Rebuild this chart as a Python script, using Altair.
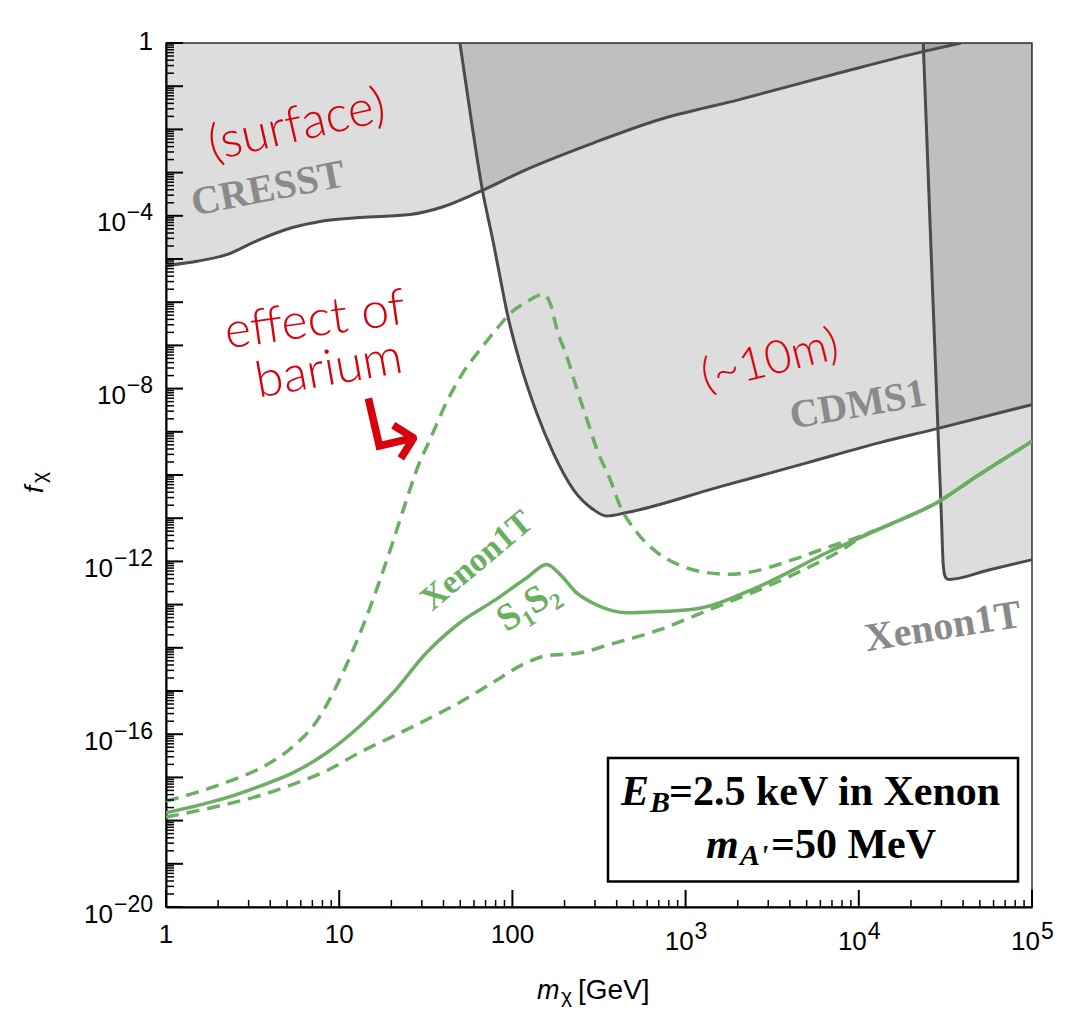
import altair as alt
import pandas as pd

W, H = 866, 864
SANS = "Liberation Sans, Arial, Helvetica, sans-serif"
SERIF = "Liberation Serif, Times New Roman, serif"
HAND = "Lato, Open Sans, sans-serif"
GREEN = "#6cae64"
GRAYLINE = "#4b4b4b"
GRAYTEXT = "#8a8a8a"
RED = "#d8000c"

# ---------- data: log10(m_chi / GeV), log10(f_chi) ----------
cresst_logm = [0.00, 0.18, 0.35, 0.54, 0.73, 0.89, 1.12, 1.41, 1.60, 1.80, 2.08, 2.47, 2.85, 3.31, 3.89, 4.37, 4.59]
cresst_logf = [-5.15, -5.05, -4.90, -4.55, -4.27, -4.13, -4.04, -3.97, -3.79, -3.46, -2.93, -2.31, -1.77, -1.31, -0.69, -0.20, 0.00]

cdms_logm = [1.697, 1.765, 1.823, 1.890, 1.947, 1.967, 2.044, 2.140, 2.236, 2.352, 2.467, 2.544, 2.660, 3.200, 3.700, 4.122, 4.430, 5.000]
cdms_logf = [0.00, -1.85, -3.32, -4.62, -5.80, -6.20, -7.40, -8.56, -9.49, -10.34, -10.80, -10.95, -10.87, -10.27, -9.72, -9.25, -8.95, -8.37]

xenon_logm = [4.372, 4.428, 4.446, 4.457, 4.476, 4.488, 4.500, 4.517, 4.750, 5.000]
xenon_logf = [0.00, -5.94, -7.79, -8.95, -10.87, -12.11, -12.36, -12.42, -12.20, -11.96]

s1s2_logm = [0.0, 0.35, 0.543, 0.735, 0.928, 1.12, 1.312, 1.505, 1.697, 1.89, 2.083, 2.198, 2.275, 2.371, 2.467,
             2.66, 2.852, 3.044, 3.43, 3.815, 4.199, 4.45, 4.681, 5.0]
s1s2_logf = [-17.82, -17.47, -17.20, -16.89, -16.43, -15.81, -15.04, -14.11, -13.42, -12.92, -12.38, -12.07, -12.30,
             -12.73, -12.97, -13.19, -13.16, -13.11, -12.57, -11.80, -11.11, -10.64, -10.03, -9.22]

upper_logm = [0.0, 0.158, 0.350, 0.543, 0.735, 0.870, 0.986, 1.081, 1.166, 1.236, 1.305, 1.380, 1.455, 1.524, 1.622,
              1.715, 1.813, 1.911, 1.998, 2.084, 2.177, 2.194, 2.223, 2.257, 2.315, 2.373, 2.431, 2.488, 2.564, 2.621,
              2.719, 2.835, 2.968, 3.124, 3.256, 3.355, 3.620, 3.816, 4.007, 4.199, 4.450, 4.681, 5.0]
upper_logf = [-17.55, -17.37, -17.11, -16.79, -16.28, -15.70, -14.87, -14.04, -13.20, -12.42, -11.61, -10.68, -9.80,
              -9.18, -8.30, -7.63, -7.10, -6.61, -6.22, -5.99, -5.82, -5.85, -6.08, -6.63, -7.26, -8.02, -8.72, -9.41,
              -10.10, -10.71, -11.33, -11.79, -12.09, -12.26, -12.30, -12.26, -11.96, -11.68, -11.42, -11.11, -10.64,
              -10.03, -9.22]

lower_logm = [0.0, 0.35, 0.543, 0.733, 0.930, 1.120, 1.311, 1.507, 1.697, 1.888, 2.084, 2.200, 2.373, 2.564, 2.852,
              3.141, 3.430, 3.718, 3.909, 4.007, 4.199, 4.450, 4.681, 5.0]
lower_logf = [-17.92, -17.62, -17.42, -17.16, -16.84, -16.42, -16.05, -15.66, -15.26, -14.80, -14.34, -14.18, -14.13,
              -13.92, -13.58, -13.11, -12.65, -12.12, -11.72, -11.45, -11.11, -10.64, -10.03, -9.22]

# axis ticks and labels
x_major = [1, 10, 100, 1e3, 1e4, 1e5]
x_minor = [k * 10.0 ** d for d in range(5) for k in range(2, 10)]
y_major = [10.0 ** (-d) for d in range(21)]
y_minor = [k * 10.0 ** (-d) for d in range(1, 21) for k in range(2, 10)]
x_plain_vals, x_plain_text = [1, 10, 100], ["1", "10", "100"]
x_pow_vals, x_pow_exp = [1e3, 1e4, 1e5], ["3", "4", "5"]
y_pow_vals = [1e-4, 1e-8, 1e-12, 1e-16, 1e-20]
y_pow_exp = ["\u22124", "\u22128", "\u221212", "\u221216", "\u221220"]


def curve(logm, logf):
    return pd.DataFrame({"m": [10.0 ** v for v in logm], "f": [10.0 ** v for v in logf]})


xs = alt.Scale(type="log", domain=[1, 1e5], nice=False)
ys = alt.Scale(type="log", domain=[1e-20, 1], nice=False)
xaxis = alt.Axis(domain=True, domainColor="black", domainWidth=2, ticks=False, labels=False, grid=False, title=None)
yaxis = alt.Axis(domain=True, domainColor="black", domainWidth=2, ticks=False, labels=False, grid=False, title=None)


def X(f):
    return alt.X(f, type="quantitative", scale=xs, axis=xaxis)


def Y(f):
    return alt.Y(f, type="quantitative", scale=ys, axis=yaxis)


layers = []

# shaded exclusion regions
for lm, lf in [(cresst_logm, cresst_logf), (cdms_logm, cdms_logf), (xenon_logm, xenon_logf)]:
    layers.append(alt.Chart(curve(lm, lf)).mark_area(color="black", opacity=0.135, interpolate="monotone", clip=True)
                  .encode(x=X("m"), y=Y("f"), y2=alt.datum(1)))
for lm, lf in [(cresst_logm, cresst_logf), (cdms_logm, cdms_logf), (xenon_logm, xenon_logf)]:
    layers.append(alt.Chart(curve(lm, lf)).mark_line(color=GRAYLINE, strokeWidth=3, interpolate="monotone", clip=True)
                  .encode(x=X("m"), y=Y("f")))

# green projections
layers.append(alt.Chart(curve(upper_logm, upper_logf)).mark_line(color=GREEN, strokeWidth=3.5, strokeDash=[13, 8],
              interpolate="monotone", clip=True).encode(x=X("m"), y=Y("f")))
layers.append(alt.Chart(curve(lower_logm, lower_logf)).mark_line(color=GREEN, strokeWidth=3.5, strokeDash=[13, 8],
              interpolate="monotone", clip=True).encode(x=X("m"), y=Y("f")))
layers.append(alt.Chart(curve(s1s2_logm, s1s2_logf)).mark_line(color=GREEN, strokeWidth=3.5,
              interpolate="monotone", clip=True).encode(x=X("m"), y=Y("f")))

# inward ticks
layers.append(alt.Chart(pd.DataFrame({"t": x_major})).mark_rule(color="black", strokeWidth=2)
              .encode(x=X("t"), y=alt.value(H), y2=alt.value(H - 17)))
layers.append(alt.Chart(pd.DataFrame({"t": x_minor})).mark_rule(color="black", strokeWidth=1.5)
              .encode(x=X("t"), y=alt.value(H), y2=alt.value(H - 7)))
layers.append(alt.Chart(pd.DataFrame({"t": y_major})).mark_rule(color="black", strokeWidth=2)
              .encode(y=Y("t"), x=alt.value(0), x2=alt.value(17)))
layers.append(alt.Chart(pd.DataFrame({"t": y_minor})).mark_rule(color="black", strokeWidth=1.5)
              .encode(y=Y("t"), x=alt.value(0), x2=alt.value(8)))

# tick labels
lab = dict(font=SANS, color="black", baseline="alphabetic")
layers.append(alt.Chart(pd.DataFrame({"v": x_plain_vals, "s": x_plain_text})).mark_text(align="center", fontSize=26, **lab)
              .encode(x=X("v"), y=alt.value(H + 36), text="s:N"))
layers.append(alt.Chart(pd.DataFrame({"v": x_pow_vals, "e": x_pow_exp})).mark_text(text="10", align="right", dx=8, fontSize=26, **lab)
              .encode(x=X("v"), y=alt.value(H + 43)))
layers.append(alt.Chart(pd.DataFrame({"v": x_pow_vals, "e": x_pow_exp})).mark_text(align="left", dx=9, fontSize=23, **lab)
              .encode(x=X("v"), y=alt.value(H + 32), text="e:N"))
layers.append(alt.Chart(pd.DataFrame({"v": [1.0]})).mark_text(text="1", align="right", dy=7, fontSize=26, **lab)
              .encode(y=Y("v"), x=alt.value(-13)))
ylab = pd.DataFrame({"v": y_pow_vals, "e": y_pow_exp})
layers.append(alt.Chart(ylab).transform_filter("length(datum.e) == 2")
              .mark_text(text="10", align="right", dy=15.5, fontSize=26, **lab).encode(y=Y("v"), x=alt.value(-40)))
layers.append(alt.Chart(ylab).transform_filter("length(datum.e) == 3")
              .mark_text(text="10", align="right", dy=15.5, fontSize=26, **lab).encode(y=Y("v"), x=alt.value(-53)))
layers.append(alt.Chart(ylab).mark_text(align="right", dy=4.5, fontSize=23, **lab)
              .encode(y=Y("v"), x=alt.value(-13), text="e:N"))

one = pd.DataFrame({"k": [0]})


def txt(text, x, y, **kw):
    return alt.Chart(one).mark_text(text=text, **kw).encode(x=alt.value(x), y=alt.value(y))


# axis titles
layers.append(txt("f", -123, 450, angle=270, align="left", baseline="alphabetic", font=SANS, fontStyle="italic", fontSize=26))
layers.append(txt("\u03c7", -120.5, 440, angle=270, align="left", baseline="alphabetic", font=SANS, fontSize=21))
layers.append(txt("m", 371, 956, align="left", baseline="alphabetic", font=SANS, fontStyle="italic", fontSize=27))
layers.append(txt("\u03c7", 395, 960, align="left", baseline="alphabetic", font=SANS, fontSize=21))
layers.append(txt("[GeV]", 412, 956, align="left", baseline="alphabetic", font=SANS, fontSize=28))

# region labels
gl = dict(font=SERIF, fontWeight="bold", align="center", baseline="middle")
layers.append(txt("CRESST", 102, 146, angle=349, fontSize=40, color=GRAYTEXT, **gl))
layers.append(txt("CDMS1", 692, 362, angle=350, fontSize=40, color=GRAYTEXT, **gl))
layers.append(txt("Xenon1T", 777, 584, angle=351, fontSize=40, color=GRAYTEXT, **gl))
layers.append(txt("Xenon1T", 311, 518, angle=320, fontSize=34, color=GREEN, **gl))
layers.append(txt("S\u2081S\u2082", 362, 563, angle=328, fontSize=38, color=GREEN, **gl))

# handwritten notes
hl = dict(font=HAND, fontWeight=300, align="center", baseline="middle", color=RED)
layers.append(txt("(surface)", 131, 83, angle=347, fontSize=50, **hl))
layers.append(txt("effect of", 149, 278, angle=352, fontSize=50, **hl))
layers.append(txt("barium", 163, 327, angle=350, fontSize=50, **hl))
layers.append(txt("\u21b3", 226, 390, angle=347, fontSize=92, font="DejaVu Sans", fontWeight=200,
                  align="center", baseline="middle", color=RED))
layers.append(txt("(~10m)", 604, 318, angle=346, fontSize=46, **hl))

# parameter box
layers.append(alt.Chart(one).mark_rect(fill="white", stroke="black", strokeWidth=2.5)
              .encode(x=alt.value(442), x2=alt.value(852), y=alt.value(715), y2=alt.value(838.5)))
bl = dict(font=SERIF, fontWeight="bold", align="left", baseline="alphabetic", color="black")
layers.append(txt("E", 455, 762, fontStyle="italic", fontSize=42, **bl))
layers.append(txt("B", 484, 768.5, fontStyle="italic", fontSize=30, **bl))
layers.append(txt("=2.5 keV in Xenon", 503, 762, fontSize=42, **bl))
layers.append(txt("m", 540, 815, fontStyle="italic", fontSize=42, **bl))
layers.append(txt("A'", 574, 822, fontStyle="italic", fontSize=30, **bl))
layers.append(txt("=50 MeV", 605, 815, fontSize=42, **bl))

chart = alt.layer(*layers).properties(
    width=W, height=H,
    padding={"left": 158, "top": 35, "right": 24, "bottom": 104},
    autosize=alt.AutoSizeParams(type="none"),
).configure_view(stroke="#333333", strokeWidth=1.5)

chart.save("out.html", embed_options={"renderer": "svg", "actions": False})
